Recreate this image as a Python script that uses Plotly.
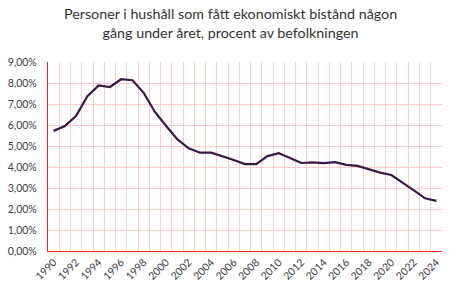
import plotly.graph_objects as go

years = list(range(1990, 2025))
values = [5.72, 5.95, 6.44, 7.37, 7.88, 7.81, 8.18, 8.13, 7.53, 6.62,
          5.95, 5.31, 4.89, 4.68, 4.68, 4.52, 4.33, 4.14, 4.14, 4.52,
          4.66, 4.43, 4.19, 4.22, 4.18, 4.23, 4.10, 4.05, 3.89, 3.73,
          3.62, 3.27, 2.89, 2.51, 2.39]
tick_years = list(range(1990, 2025, 2))
tick_labels = [str(y) for y in tick_years]
title = "Personer i hushåll som fått ekonomiskt bistånd någon<br>gång under året, procent av befolkningen"

fig = go.Figure()
fig.add_trace(go.Scatter(x=years, y=values, mode="lines",
                         line=dict(color="#3a1846", width=2.2)))

grid = "#ffcccc"
fig.update_layout(
    width=460, height=296,
    margin=dict(l=48, r=18, t=62, b=45, autoexpand=False),
    paper_bgcolor="white", plot_bgcolor="white",
    separators=", ",
    showlegend=False,
    font=dict(family="Lato, sans-serif", color="#404040", size=10.5),
    annotations=[dict(text=title, x=0.5, xref="paper", xanchor="center", xshift=-15,
                      y=1, yref="paper", yshift=59, yanchor="top", showarrow=False,
                      font=dict(family="Lato, sans-serif", size=14.3, color="#333333"))],
    xaxis=dict(range=[1989.5, 2024.5], tickmode="array", tickvals=tick_years,
               ticktext=tick_labels, tickangle=-45, showgrid=False,
               showline=True, linecolor="#ff2020", linewidth=1.3,
               ticks="", zeroline=False, automargin=False,
               minor=dict(tickmode="linear", tick0=1989.5, dtick=1,
                          showgrid=True, gridcolor=grid, gridwidth=1.1, ticks="")),
    yaxis=dict(range=[0, 9], dtick=1, tickformat=".2f", ticksuffix="%",
               showgrid=True, gridcolor=grid, gridwidth=1.1,
               showline=True, linecolor="#ff2020", linewidth=1.3,
               zeroline=False, ticks="", ticklen=0, automargin=False,
               ticklabelstandoff=8),
)
fig.write_html("out.html", post_script="document.body.style.margin='0';",
               config={"displayModeBar": False})
